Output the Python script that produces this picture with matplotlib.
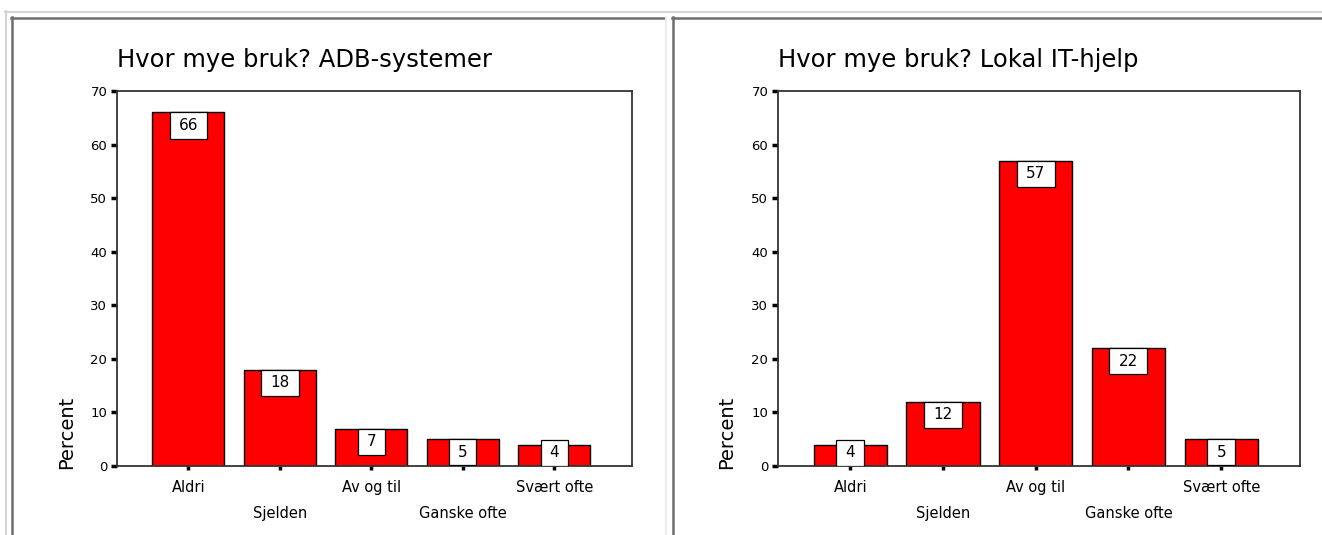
import matplotlib
matplotlib.use("Agg")
import matplotlib.pyplot as plt
from matplotlib.lines import Line2D
from matplotlib.patches import Rectangle

plt.rcParams['font.family'] = ['DejaVu Sans']

categories = ['Aldri', 'Sjelden', 'Av og til', 'Ganske ofte', 'Svært ofte']
adb_values = [66, 18, 7, 5, 4]
it_values = [4, 12, 57, 22, 5]
titles = ['Hvor mye bruk? ADB-systemer', 'Hvor mye bruk? Lokal IT-hjelp']
y_ticks = [0, 10, 20, 30, 40, 50, 60, 70]

W, H = 1322, 535
fig = plt.figure(figsize=(W / 100, H / 100), dpi=100)
fig.patch.set_facecolor('white')


def px(x, y):
    return x / W, 1 - y / H


# panel borders
def hline(y, x0, x1, color, lw):
    fig.add_artist(Line2D([x0 / W, x1 / W], [1 - y / H] * 2, color=color, lw=lw,
                          transform=fig.transFigure))


def vline(x, y0, y1, color, lw):
    fig.add_artist(Line2D([x / W] * 2, [1 - y0 / H, 1 - y1 / H], color=color, lw=lw,
                          transform=fig.transFigure))


hline(11.5, 5, W, '#d4d4d4', 1.5)
vline(5.5, 11, H, '#d4d4d4', 1.5)
hline(17.5, 11, 665, '#6e6e6e', 1.8)
vline(11.5, 17, H, '#6e6e6e', 1.8)
vline(666, 17, H, '#eeeeee', 1.5)
hline(17.5, 672, W, '#6e6e6e', 1.8)
vline(672.5, 17, H, '#6e6e6e', 1.8)

box_h = 4.9


def draw_panel(left, right, values, title):
    x0, y1 = px(left, 91)
    x1, y0 = px(right, 466)
    ax = fig.add_axes([x0, y0, x1 - x0, y1 - y0])
    pos = list(range(len(categories)))
    ax.bar(pos, values, width=0.79, color='#ff0000', edgecolor='black', linewidth=1.0, zorder=2)
    for x, v in zip(pos, values):
        label = f'{v:.0f}'
        bw = 0.41 if len(label) > 1 else 0.30
        top = max(v, box_h)
        ax.add_patch(Rectangle((x - bw / 2, top - box_h), bw, box_h, facecolor='white',
                               edgecolor='black', linewidth=0.9, zorder=3))
        ax.text(x, top - box_h / 2, label, ha='center', va='center', fontsize=11, zorder=4)
    ax.set_xlim(-0.78, 4.85)
    ax.set_ylim(0, 70)
    ax.set_yticks(y_ticks)
    ax.set_yticklabels([str(t) for t in y_ticks], fontsize=9.5)
    ax.set_xticks(pos[0::2])
    ax.set_xticklabels(categories[0::2], fontsize=10.5)
    ax.set_xticks(pos[1::2], minor=True)
    ax.set_xticklabels(categories[1::2], minor=True, fontsize=10.5)
    ax.tick_params(axis='y', direction='out', length=4, width=2.5, pad=3, colors='black')
    ax.tick_params(axis='x', which='both', direction='out', length=3, width=2.5, colors='black')
    ax.tick_params(axis='x', which='major', pad=7)
    ax.tick_params(axis='x', which='minor', pad=26)
    for s in ax.spines.values():
        s.set_color('#333333')
        s.set_linewidth(1.3)
    ax.set_ylabel('Percent', fontsize=14)
    ax.yaxis.set_label_coords(-0.08, 0.09)
    fig.text(left / W, 1 - 67 / H, title, fontsize=17.5, ha='left', va='baseline')
    return ax


draw_panel(117, 632, adb_values, titles[0])
draw_panel(778, 1300, it_values, titles[1])

fig.savefig('out.png', dpi=100)
